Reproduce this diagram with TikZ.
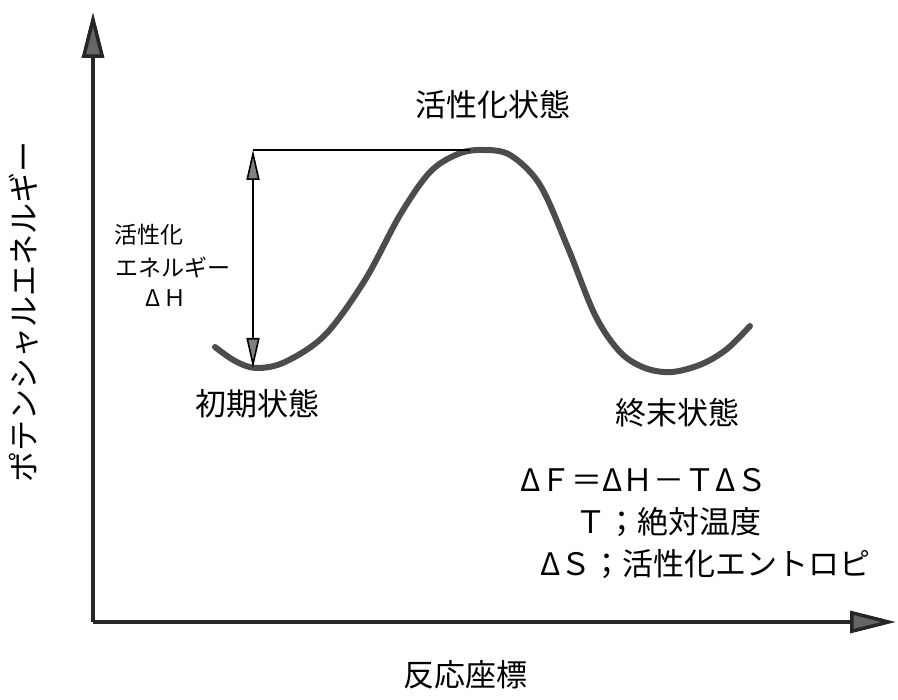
\documentclass[tikz,border=0pt]{standalone}
\usepackage{fontspec}
\setmainfont{Noto Sans CJK JP}
\usetikzlibrary{arrows.meta}
\begin{document}
\begin{tikzpicture}[x=1pt,y=-1pt,
  axis/.style={line width=3.5pt, draw=black!85, -{Triangle[length=46pt,width=22pt,fill=black!60]}},
  dimarrow/.style={line width=1.6pt, {Triangle[length=30pt,width=13pt,fill=black!50]}-{Triangle[length=30pt,width=13pt,fill=black!50]}},
  lbl/.style={inner sep=0pt, font=\fontsize{31}{36}\selectfont},
  slbl/.style={inner sep=0pt, font=\fontsize{23}{28}\selectfont}]
\useasboundingbox (0,0) rectangle (898,700);
\coordinate (O) at (93,622);
\coordinate (Ytop) at (93,12);
\coordinate (Xend) at (896,622);
\draw[axis] (O) -- (Ytop);
\draw[axis] (O) -- (Xend);
% curve
\draw[line width=6pt, draw=black!70, line cap=round] plot[smooth, tension=0.55] coordinates {
 (215,347) (235,361) (256,368) (285,362) (325,335) (365,280) (400,215) (430,172) (458,154) (482,150)
 (510,155) (540,185) (568,248) (595,315) (620,352) (645,368) (672,372) (702,364) (727,349) (750,326)};
\coordinate (Top) at (253,150);
\coordinate (Peak) at (470,150);
\coordinate (Bot) at (253,368);
\draw[line width=1.6pt] (Top) -- (Peak);
\draw[dimarrow] (Top) -- (Bot);
% labels
\node[lbl] (act) at (493,105) {活性化状態};
\node[slbl, anchor=west] (ea1) at (114,235) {活性化};
\node[slbl, anchor=west] (ea2) at (115,267) {エネルギー};
\node[slbl] (ea3) at (166,298) {Δ\,Ｈ};
\node[lbl] (ini) at (257,404) {初期状態};
\node[lbl] (fin) at (677,413) {終末状態};
\node[lbl, anchor=west] (eq1) at (520,480) {ΔＦ＝ΔＨ－ＴΔＳ};
\node[lbl, anchor=west] (eq2) at (575,522) {Ｔ；絶対温度};
\node[lbl, anchor=west] (eq3) at (540,564) {ΔＳ；活性化エントロピ};
\node[lbl] (xl) at (465,675) {反応座標};
\node[lbl, rotate=90] (yl) at (24,312) {ポテンシャルエネルギー};
\end{tikzpicture}
\end{document}
